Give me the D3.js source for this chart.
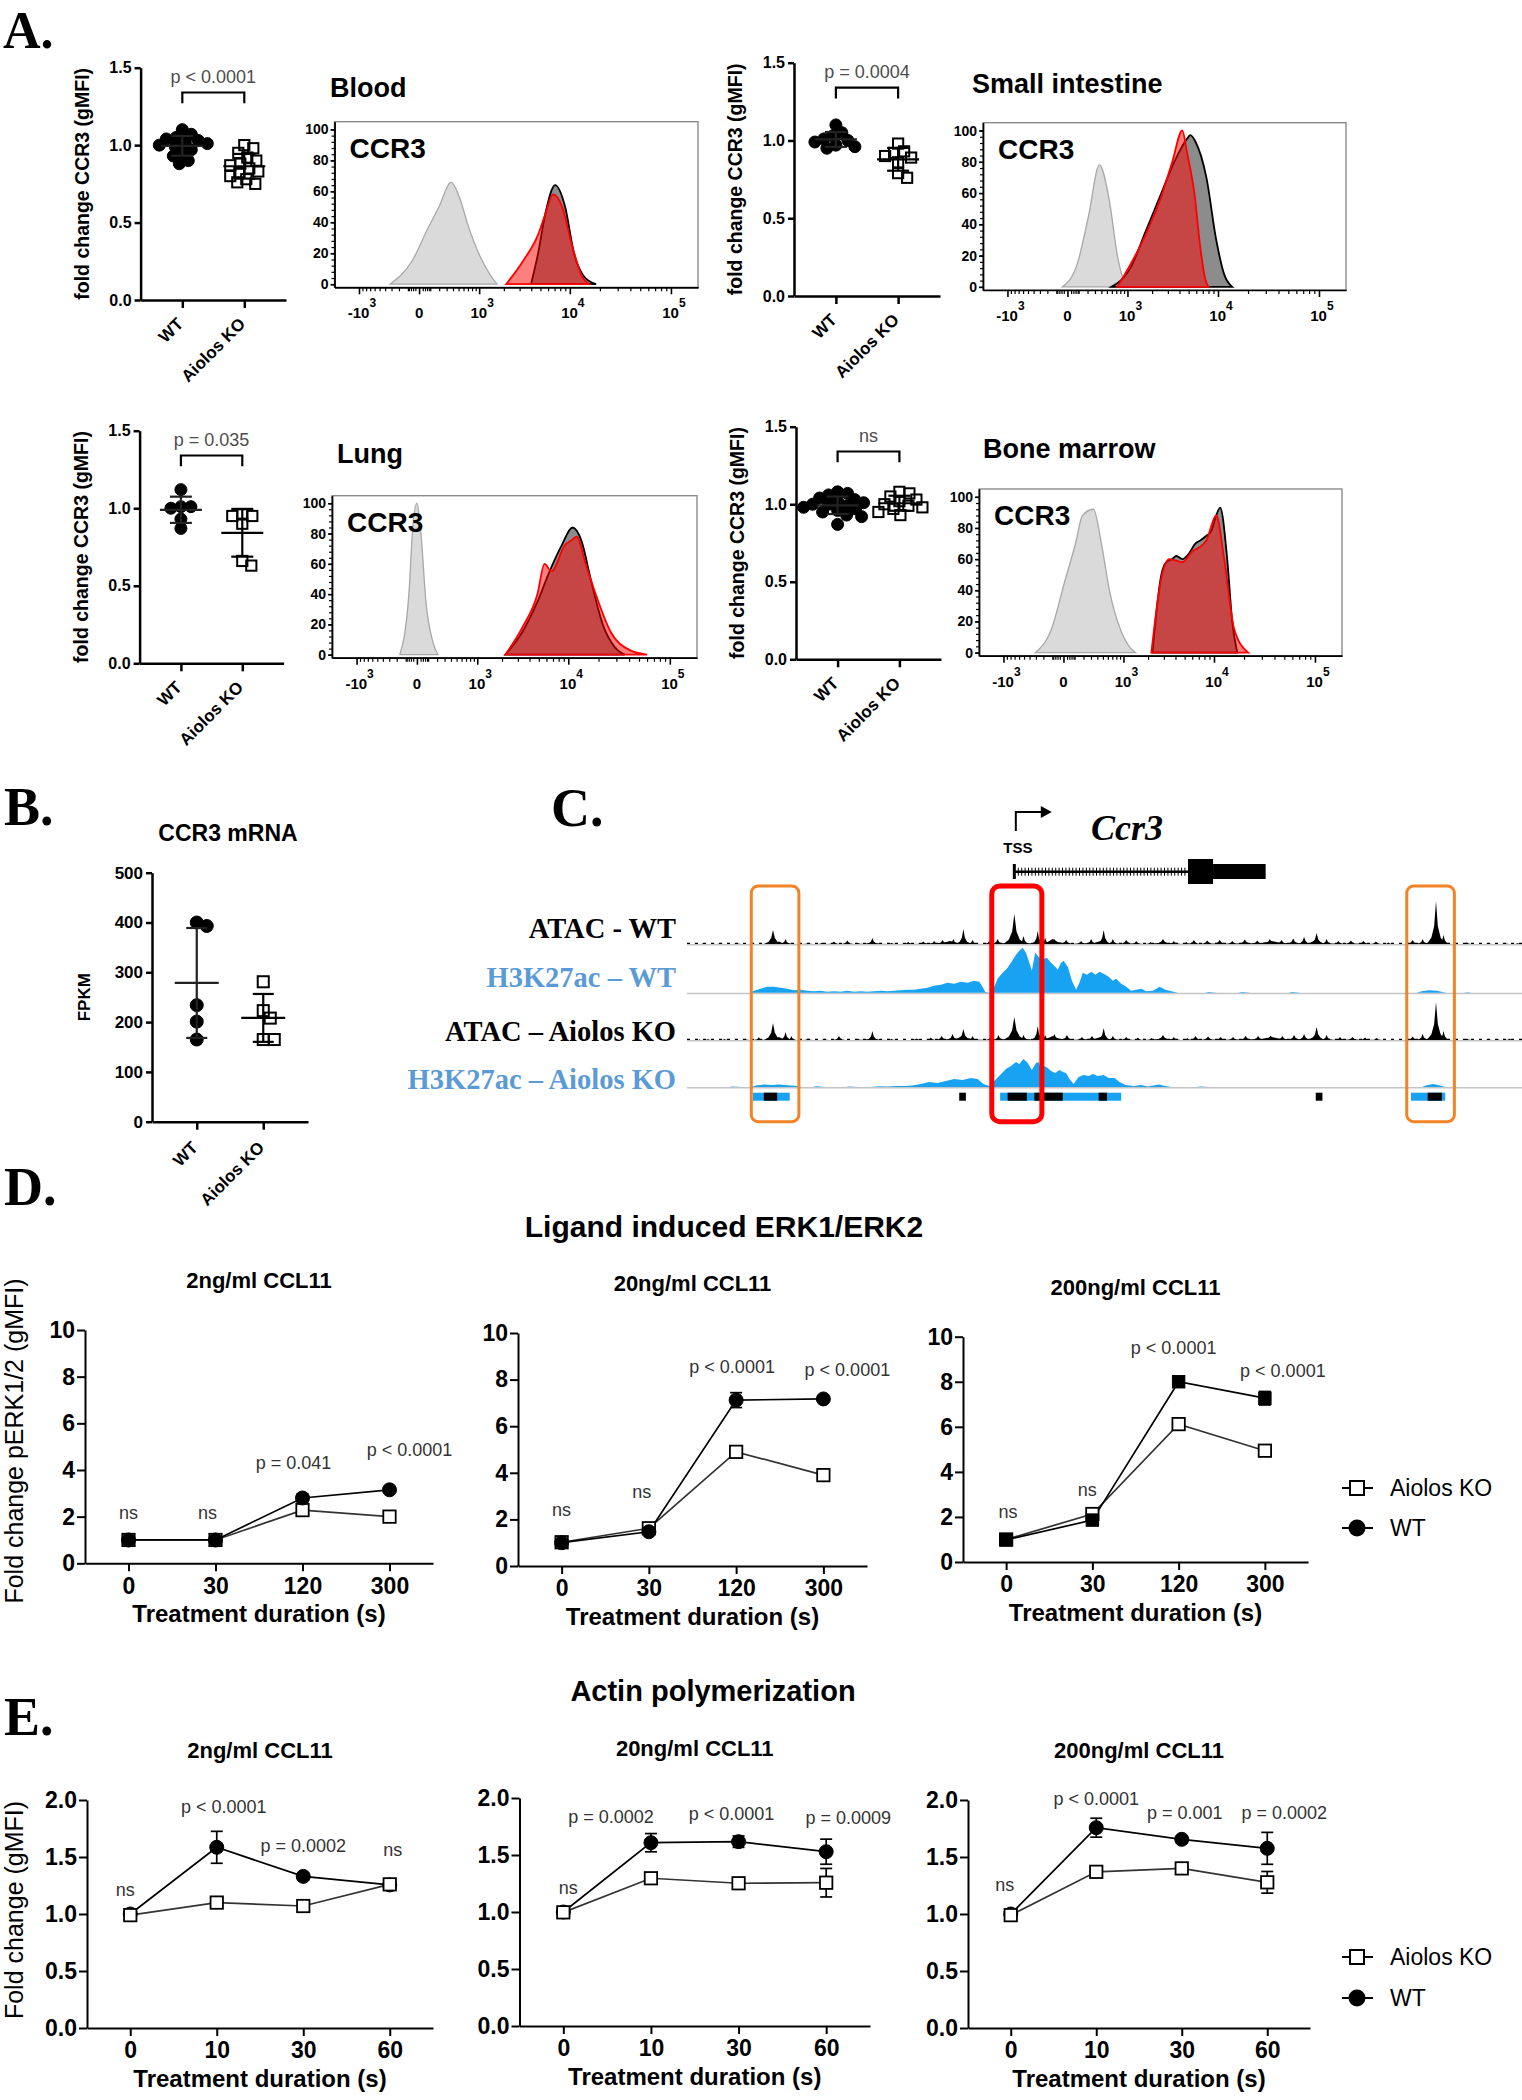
<!DOCTYPE html>
<html>
<head>
<meta charset="utf-8">
<script src="https://cdn.jsdelivr.net/npm/d3@7/dist/d3.min.js"></script>
<style>
html,body{margin:0;padding:0;background:#fff;}
svg{display:block;}
</style>
</head>
<body>
<svg id="fig" width="1522" height="2100" xmlns="http://www.w3.org/2000/svg"></svg>
<script>
// ====================== DATA ======================
const groups = ["WT", "Aiolos KO"];
const scatterTicks = [0, 0.5, 1.0, 1.5];

// Panel A: fold change CCR3 (gMFI), individual mice
const bloodWT = [1.10,1.07,1.05,1.04,1.03,1.02,1.01,1.00,0.99,0.97,0.95,0.93,0.90,0.88];
const bloodKO = [1.00,0.98,0.95,0.92,0.90,0.88,0.87,0.85,0.83,0.82,0.80,0.78,0.76,0.75];
const siWT    = [1.10,1.05,1.03,1.01,1.00,0.99,0.97,0.96,0.95];
const siKO    = [0.98,0.93,0.92,0.90,0.89,0.86,0.79,0.76];
const lungWT  = [1.12,1.01,1.01,1.00,0.93,0.87];
const lungKO  = [0.96,0.95,0.95,0.90,0.66,0.63];
const bmWT    = [1.08,1.07,1.06,1.04,1.03,1.02,1.01,1.00,1.00,0.99,0.98,0.97,0.96,0.95,0.93,0.92,0.87];
const bmKO    = [1.08,1.07,1.05,1.03,1.02,1.00,0.99,0.98,0.97,0.95,0.93];
const pA = ["p < 0.0001", "p = 0.0004", "p = 0.035", "ns"];
const tissues = ["Blood", "Small intestine", "Lung", "Bone marrow"];

// Panel A histograms: [CCR3 intensity, % of max]
const histCountTicks = [0,20,40,60,80,100];
const histMajorTicks = [-1000, 0, 1000, 10000, 100000];
const histTickLabels = [["-10","3"],["0",""],["10","3"],["10","4"],["10","5"]];
const histMinorTicks = [-900,-800,-700,-600,-500,-400,-300,-200,-100,-90,-70,-50,-30,30,50,70,90,100,200,300,400,500,600,700,800,900,
  2000,3000,4000,5000,6000,7000,8000,9000,20000,30000,40000,50000,60000,70000,80000,90000];
const bloodIso = [[-322,0],[-60,15],[69,35],[198,50],[369,66],[529,55],[702,38],[1028,18],[1379,6],[1669,0]];
const bloodWTh = [[3980,0],[4726,20],[5598,45],[7092,64],[8961,50],[11020,20],[13900,5],[18340,0]];
const bloodKOh = [[2124,0],[3272,15],[4726,32],[5598,45],[6767,58],[8360,50],[10530,25],[13270,5],[15600,0]];
const siIso  = [[-42,0],[88,15],[211,45],[369,78],[549,55],[726,20],[910,3],[999,0]];
const siWTh  = [[591,0],[1092,12],[1669,35],[2545,60],[3521,80],[4841,95],[5200,97],[5871,93],[7618,70],[9600,30],[11550,8],[13900,0]];
const siKOh  = [[726,0],[1669,33],[2545,58],[3353,80],[4283,100],[4841,85],[5733,60],[6609,25],[7420,5],[7981,0]];
const lungIso = [[-163,0],[-69,40],[-33,85],[0,100],[33,80],[78,35],[152,8],[211,0]];
const lungWTh = [[2181,0],[3353,15],[4841,35],[6455,55],[8555,72],[11020,84],[13580,75],[16730,50],[22020,20],[28900,5],[36300,0]];
const lungKOh = [[2181,0],[3353,18],[4841,40],[5733,60],[6767,55],[9171,72],[11020,76],[12100,78],[14900,60],[18760,40],[26400,15],[40700,3],[60000,0]];
const bmIso  = [[-307,0],[-109,15],[8,45],[109,70],[187,88],[337,92],[472,70],[634,40],[910,15],[1228,3],[1418,0]];
const bmWTh  = [[2237,0],[2819,50],[3192,58],[3700,60],[4085,62],[4726,60],[5457,63],[6455,70],[7256,72],[8360,75],[9380,78],[10530,88],[11550,93],[13580,60],[15250,20],[17120,0]];
const bmKOh  = [[2181,0],[2819,48],[3437,60],[4085,59],[4726,58],[6013,65],[7256,68],[8360,72],[10530,88],[12670,60],[15970,15],[22020,0]];

// Panel B: CCR3 mRNA (FPKM)
const mrnaWT = [400,393,234,201,165];
const mrnaKO = [281,223,208,165,165];
const mrnaTicks = [0,100,200,300,400,500];

// Panel C: genome tracks (relative position 0-100, signal)
const trackNames = ["ATAC - WT", "H3K27ac \u2013 WT", "ATAC \u2013 Aiolos KO", "H3K27ac \u2013 Aiolos KO"];
// ATAC peaks: [position, height, half-width]
const atacWT = [[1,0.8,0.3],[2,1,0.4],[3.2,0.8,0.3],[4,1,0.4],[5,0.8,0.3],[6,1.2,0.5],[7.8,1,0.4],[10.3,14,1.1],[11.8,5,0.8],[11,2.5,2.2],[14.5,1.2,0.6],[16.2,1.5,0.6],[17.6,2.5,0.9],[19.2,3.5,0.8],[20.5,1,0.5],[22.2,6,0.8],[22.2,2,1.8],[24.5,1.2,0.6],[26.5,2,1.0],[28.3,2.5,1.0],[29.6,3,0.8],[30.6,4,0.9],[31.5,3,4],[31.9,5,0.8],[33.1,15,0.9],[34.2,4,0.7],[36.2,3,0.8],[37.2,5,0.9],[39.4,5,2.8],[39.2,30,1.3],[40.3,8,0.8],[42.0,13,0.8],[42.9,6,0.7],[43.8,5,3],[44.0,5,0.9],[45.4,4,1.0],[47.2,3,0.9],[48.4,5,0.9],[49.5,3,3],[49.9,14,0.9],[51.0,5,0.8],[52.6,4,1.0],[53.8,3,0.8],[55.5,2,0.7],[57.0,5,1.2],[57,2.5,2.5],[58.3,3,0.8],[59.8,2,0.7],[60.7,4,0.9],[62.3,3.5,1.0],[63.8,4,1.0],[65.3,3,0.9],[66.8,4.5,1.0],[68.3,3.5,1.0],[69.8,5,1.0],[70,3,5],[71.2,4,0.9],[72.6,5.5,1.0],[73.9,7,0.9],[75.2,3.5,2.5],[75.4,11,1.0],[76.6,5,0.8],[78,3,0.9],[79.5,3.5,1.0],[81,3,1.0],[82.5,2.5,0.9],[84,1.5,0.6],[86.9,4,0.9],[88.1,5,0.8],[89.3,4,2],[89.7,43,1.1],[90.6,9,0.8],[93.4,2,0.6],[95,0.8,0.3],[96,1,0.4],[97,0.8,0.3],[98,1.2,0.5],[99.5,1,0.4]];
const atacKO = [[1.5,0.8,0.3],[2.5,1,0.4],[4.5,1,0.4],[5.8,0.8,0.3],[7,1.2,0.5],[8.6,3,0.6],[10.3,17,1.1],[11.8,8,0.8],[11,3,2.2],[12.5,4,0.6],[14.5,1.5,0.6],[16.5,1.2,0.5],[18.2,4,0.8],[20.5,1.2,0.5],[22.2,9,0.8],[22.2,2,1.8],[24.5,1.2,0.5],[27.5,1.5,0.8],[29.2,2.5,0.8],[30.5,4,0.9],[31.8,6,0.9],[33.0,4,3],[33.1,11,1.0],[34.2,4,0.7],[36.3,2.5,0.8],[37.3,5,0.8],[39.4,5,2.8],[39.2,23,1.3],[40.3,5,0.8],[42.0,14,0.8],[42.9,5,0.7],[43.8,4,3],[44.0,6,0.9],[45.5,5,1.0],[47.3,3,0.9],[48.5,4,0.9],[49.5,3,3],[49.9,12,0.9],[51.0,4,0.8],[52.6,3,0.9],[54.0,2.5,0.8],[55.6,2,0.7],[57.0,5,1.2],[57,2.5,2.5],[58.3,3,0.8],[59.9,2,0.7],[60.9,4,0.9],[62.4,3.5,1.0],[63.9,3,1.0],[65.4,3,0.9],[66.9,4,1.0],[68.4,4,1.0],[69.9,4.5,1.0],[70,3,5],[71.3,4,0.9],[72.7,5,1.0],[73.9,6,0.9],[75.2,3.5,2.5],[75.4,13,1.0],[76.6,5,0.8],[78.2,3,0.9],[79.7,3,1.0],[81.2,2.5,1.0],[82.6,2,0.8],[86.9,3.5,0.9],[88.1,6,0.8],[89.3,4,2],[89.7,38,1.1],[90.6,9,0.8],[93.4,1.5,0.6],[95,0.8,0.3],[96,1,0.4],[97.2,0.8,0.3],[98.5,1.5,0.5]];
// H3K27ac profiles: [position, signal]
const h3WT = [[7.6,0],[8.0,2],[8.8,4],[9.6,6],[10.4,6],[11.2,5],[12.0,4],[12.8,2.5],[13.6,3],[14.4,2],[15.2,1.5],[16,2],[16.8,1],[17.6,1.5],[18.4,1],[19.2,2],[20,1],[20.8,1.5],[21.6,1],[22.4,1.5],[23.2,2],[24,1.5],[24.8,2],[25.6,2.5],[26.4,3],[27.2,3],[28,4],[28.8,5],[29.6,7],[30.4,8],[31.2,10],[32,9],[32.8,11],[33.6,10],[34.4,12],[35.0,11],[35.4,6],[35.7,1],[36.2,0],[36.5,3],[36.8,6],[37.2,14],[37.8,20],[38.3,24],[38.8,30],[39.4,38],[39.8,42],[40.2,45],[40.6,40],[41.0,30],[41.3,22],[41.7,40],[42.1,36],[42.5,33],[43.1,35],[43.6,30],[44.1,26],[44.4,23],[44.8,30],[45.1,32],[45.6,26],[46.1,12],[46.6,3],[47.0,10],[47.4,20],[47.9,18],[48.4,21],[48.9,18],[49.4,21],[49.9,19],[50.5,16],[51.0,12],[51.4,14],[52.0,9],[52.6,6],[53.2,2],[53.8,3],[54.4,4],[55,1.5],[55.8,2],[56.6,6],[57.3,3],[58,1.5],[58.8,0],[62,0],[62.5,0.8],[63.5,0],[66,0],[66.5,0.6],[67.5,0],[72,0],[72.5,0.6],[73.5,0],[87.4,0],[88,1.5],[88.9,2.5],[89.8,2],[90.6,0.5],[91,0],[93,0],[93.5,0.5],[94,0]];
const h3KO = [[5,0],[5.5,0.5],[6.5,0],[7.6,0],[8.3,1.5],[9.2,2.5],[10.2,2],[11,2.5],[12,1.8],[13,1.2],[13.8,0],[15,0],[15.5,0.7],[16.5,0],[19,0],[19.5,0.6],[20.5,0],[22,0],[23,0.8],[24,0.5],[25,1],[26,1],[27,1.5],[28,3],[29,5],[30,4],[31,6],[32,8],[33,7],[34,9],[34.8,8],[35.5,3],[36.2,1],[36.8,6],[37.5,12],[38.2,18],[38.8,21],[39.4,25],[39.8,23],[40.3,28],[40.8,24],[41.3,17],[41.8,24],[42.1,25],[42.4,18],[42.8,21],[43.2,19],[43.6,16],[44.1,14],[44.6,17],[45.0,15],[45.4,14],[45.8,8],[46.3,3],[46.9,10],[47.5,12],[48.1,11],[48.6,13],[49.2,11],[49.9,12],[50.5,9],[51.2,9],[51.8,5],[52.5,2],[53.5,1],[54.4,2],[55.2,0.5],[56.5,2.5],[57.3,1],[58,0],[61,0],[61.5,0.5],[62.5,0],[88,0],[88.6,1.8],[89.4,3],[90.2,1.5],[90.8,0]];
const annotBlue  = [[7.9,12.3],[37.5,52.0],[86.7,90.8]];
const annotBlack = [[9.2,10.8],[32.6,33.4],[38.4,40.7],[41.6,45.0],[49.3,50.3],[75.3,76.1],[88.7,90.4]];
const regionsOrange = [[7.7,13.4],[86.2,91.9]];
const regionRed = [36.5,42.5];
const geneTSS = 39.2, geneCDS = [60.0,63.0], geneUTR = [63.0,69.3];

// Panel D: pERK1/2 fold change
const timesD = ["0","30","120","300"];
const erkTicks = [0,2,4,6,8,10];
const erk2KO   = [1.0,1.0,2.28,2.0],  erk2KOse   = [0.08,0.08,0.12,0.12];
const erk2WT   = [1.0,1.0,2.8,3.15],  erk2WTse   = [0.08,0.08,0.18,0.12];
const erk20KO  = [1.02,1.62,4.9,3.9], erk20KOse  = [0.08,0.1,0.15,0.22];
const erk20WT  = [1.0,1.47,7.12,7.17],erk20WTse  = [0.08,0.08,0.32,0.1];
const erk200KO = [1.0,2.13,6.12,4.94],erk200KOse = [0.1,0.12,0.18,0.15];
const erk200WT = [0.98,1.86,8.0,7.27],erk200WTse = [0.1,0.12,0.2,0.3];
const pD2   = ["ns","ns","p = 0.041","p < 0.0001"];
const pD20  = ["ns","ns","p < 0.0001","p < 0.0001"];
const pD200 = ["ns","ns","p < 0.0001","p < 0.0001"];
const pDy2 = [1.9,1.9,4.04,4.6], pDy20 = [2.15,2.9,8.27,8.15], pDy200 = [1.95,2.93,9.23,8.2];

// Panel E: actin polymerization fold change
const timesE = ["0","10","30","60"];
const actTicks = [0,0.5,1.0,1.5,2.0];
const act2KO   = [0.99,1.10,1.07,1.26],   act2KOse   = [0.02,0.02,0.03,0.03];
const act2WT   = [1.0,1.585,1.33,1.255],  act2WTse   = [0.02,0.14,0.03,0.03];
const act20KO  = [0.997,1.296,1.252,1.257],act20KOse = [0.02,0.03,0.03,0.125];
const act20WT  = [1.0,1.608,1.617,1.529], act20WTse  = [0.02,0.08,0.05,0.11];
const act200KO = [0.99,1.37,1.40,1.278],  act200KOse = [0.02,0.02,0.03,0.095];
const act200WT = [1.0,1.757,1.655,1.576], act200WTse = [0.02,0.083,0.03,0.14];
const pE2   = ["ns","p < 0.0001","p = 0.0002","ns"];
const pE20  = ["ns","p = 0.0002","p < 0.0001","p = 0.0009"];
const pE200 = ["ns","p < 0.0001","p = 0.001","p = 0.0002"];
const pEy2 = [1.16,1.89,1.54,1.51], pEy20 = [1.16,1.78,1.81,1.77], pEy200 = [1.2,1.96,1.83,1.83];

// ====================== DRAWING ======================
const SANS = "'Liberation Sans', Arial, Helvetica, sans-serif";
const SERIF = "'Liberation Serif', 'Times New Roman', Times, serif";
const svg = d3.select("#fig");
svg.append("rect").attr("width",1522).attr("height",2100).attr("fill","#fff");

function T(g, x, y, s, o = {}) {
  const t = g.append("text").attr("x", x).attr("y", y).text(s)
    .attr("font-family", o.family || SANS)
    .attr("font-size", o.size || 16)
    .attr("font-weight", o.weight || "normal")
    .attr("fill", o.fill || "#000")
    .attr("text-anchor", o.anchor || "start");
  if (o.style) t.attr("font-style", o.style);
  if (o.rotate) t.attr("transform", `rotate(${o.rotate},${x},${y})`);
  return t;
}
function styleAxis(sel, size, weight, sw) {
  sel.selectAll("path.domain").attr("stroke", "#000").attr("stroke-width", sw);
  sel.selectAll(".tick line").attr("stroke", "#000").attr("stroke-width", sw);
  sel.selectAll(".tick text").attr("font-family", SANS).attr("font-size", size)
    .attr("font-weight", weight).attr("fill", "#000");
}
function swarm(vals, y, cx, minD) {
  const items = vals.map(v => ({ v, py: y(v) })).sort((a, b) => a.py - b.py);
  const placed = [];
  items.forEach(it => {
    let off = 0;
    outer: for (let s = 0; s < 80; s++) {
      const cands = s === 0 ? [0] : [s, -s];
      for (const c of cands) {
        if (placed.every(p => (p.px - (cx + c)) ** 2 + (p.py - it.py) ** 2 >= minD * minD)) { off = c; break outer; }
      }
    }
    it.px = cx + off; placed.push(it);
  });
  return placed;
}
function marker(g, shape, x, y, size, fill, stroke, sw) {
  if (shape === "circle") {
    g.append("circle").attr("cx", x).attr("cy", y).attr("r", size).attr("fill", fill).attr("stroke", stroke).attr("stroke-width", sw);
  } else {
    g.append("rect").attr("x", x - size).attr("y", y - size).attr("width", 2 * size).attr("height", 2 * size)
      .attr("fill", fill).attr("stroke", stroke).attr("stroke-width", sw);
  }
}

// ---------- panel letters ----------
[["A.",3,48,52],["B.",4,825,54],["C.",551,826,54],["D.",4,1205,54],["E.",4,1735,54]].forEach(([s,x,y,fs]) =>
  T(svg, x, y, s, { family: SERIF, size: fs, weight: "bold" }));

// ---------- scatter (A and B) ----------
function scatterPanel(c, wt, ko) {
  const g = svg.append("g");
  const y = d3.scaleLinear().domain(c.domain).range([c.y0, c.yTop]);
  const x = d3.scalePoint().domain(groups).range([c.ax, c.xEnd]).padding(c.pad);
  const ya = g.append("g").attr("transform", `translate(${c.ax},0)`)
    .call(d3.axisLeft(y).tickValues(c.ticks).tickFormat(c.fmt).tickSize(6).tickSizeOuter(0).tickPadding(3));
  styleAxis(ya, c.tickSize, "bold", 2.5);
  const xa = g.append("g").attr("transform", `translate(0,${c.y0})`)
    .call(d3.axisBottom(x).tickSize(8).tickSizeOuter(0).tickFormat(""));
  styleAxis(xa, 12, "bold", 2.5);
  groups.forEach(gr => T(g, x(gr) + 2, c.y0 + c.lblDy, gr, { rotate: -45, anchor: "end", weight: "bold", size: c.lblSize }));
  T(g, c.ax - c.ytOff, (c.y0 + c.yTop) / 2, c.ytitle, { rotate: -90, anchor: "middle", weight: "bold", size: c.ytSize });
  if (c.title) T(g, c.title[0], c.title[1], c.title[2], { anchor: "middle", weight: "bold", size: 23 });
  [wt, ko].forEach((vals, i) => {
    const cx = x(groups[i]);
    const pts = swarm(vals, y, cx, c.r * 1.55);
    pts.forEach(p => {
      if (i === 0) marker(g, "circle", p.px, p.py, c.r, "#000", "#000", 1);
      else marker(g, "square", p.px, p.py, c.r * 0.85, "none", "#000", 2);
    });
    const m = d3.mean(vals), sd = d3.deviation(vals);
    const ls = g.append("g").attr("stroke", i === 0 ? "#222" : "#000").attr("stroke-width", 2.2).attr("fill", "none");
    ls.append("line").attr("x1", cx - c.mw).attr("x2", cx + c.mw).attr("y1", y(m)).attr("y2", y(m));
    ls.append("line").attr("x1", cx).attr("x2", cx).attr("y1", y(m - sd)).attr("y2", y(m + sd));
    [m - sd, m + sd].forEach(v => ls.append("line").attr("x1", cx - c.cw).attr("x2", cx + c.cw).attr("y1", y(v)).attr("y2", y(v)));
  });
  if (c.p) {
    const b1 = x(groups[0]), b2 = x(groups[1]);
    g.append("path").attr("d", `M${b1},${y(1.27)}V${y(1.34)}H${b2}V${y(1.27)}`)
      .attr("fill", "none").attr("stroke", "#000").attr("stroke-width", 2.2);
    T(g, (b1 + b2) / 2, y(1.40), c.p, { anchor: "middle", size: 18, fill: "#4d4d4d" });
  }
}
const scatterCommon = { domain: [0, 1.5], ticks: scatterTicks, fmt: d3.format(".1f"), pad: 0.673, tickSize: 16,
  lblSize: 17, lblDy: 25, ytitle: "fold change CCR3 (gMFI)", ytOff: 52, ytSize: 19.5, r: 6, mw: 21, cw: 11 };
scatterPanel({ ...scatterCommon, ax: 140.6, y0: 300, yTop: 67.7, xEnd: 286, p: pA[0] }, bloodWT, bloodKO);
scatterPanel({ ...scatterCommon, ax: 794, y0: 296, yTop: 62.7, xEnd: 940, p: pA[1] }, siWT, siKO);
scatterPanel({ ...scatterCommon, ax: 139.6, y0: 663.3, yTop: 430.7, xEnd: 283.6, p: pA[2] }, lungWT, lungKO);
scatterPanel({ ...scatterCommon, ax: 796, y0: 659.3, yTop: 426.7, xEnd: 941, p: pA[3] }, bmWT, bmKO);
// Panel B
scatterPanel({ domain: [0, 500], ticks: mrnaTicks, fmt: d3.format("d"), pad: 0.673, tickSize: 17, lblSize: 17, lblDy: 27,
  ytitle: "FPKM", ytOff: 62, ytSize: 17, r: 6.5, mw: 22, cw: 10.5, ax: 152, y0: 1121.7, yTop: 872.7, xEnd: 308,
  title: [228, 841, "CCR3 mRNA"] }, mrnaWT, mrnaKO);

// ---------- histograms (A) ----------
function histPanel(c, iso, wt, ko) {
  const g = svg.append("g");
  const x = d3.scaleSymlog().constant(350).domain([-1990, 184000]).range([c.x, c.x + c.w]);
  const y = d3.scaleLinear().domain([-2, 105]).range([c.y + c.h, c.y]);
  const area = d3.area().x(d => x(d[0])).y0(y(0)).y1(d => y(d[1])).curve(d3.curveMonotoneX);
  g.append("rect").attr("x", c.x).attr("y", c.y).attr("width", c.w).attr("height", c.h)
    .attr("fill", "none").attr("stroke", "#8a8a8a").attr("stroke-width", 1.4);
  g.append("path").attr("d", area(iso)).attr("fill", "#dadada").attr("stroke", "#a8a8a8").attr("stroke-width", 1.3);
  g.append("path").attr("d", area(wt)).attr("fill", "#8c8c8c").attr("stroke", "#000").attr("stroke-width", 1.8);
  g.append("path").attr("d", area(ko)).attr("fill", "rgba(255,0,0,0.5)").attr("stroke", "#ff0000").attr("stroke-width", 1.8);
  const xb = c.y + c.h;
  const xa = g.append("g").attr("transform", `translate(0,${xb})`)
    .call(d3.axisBottom(x).tickValues(histMajorTicks).tickSize(7).tickSizeOuter(0).tickFormat(""));
  styleAxis(xa, 10, "bold", 1.6);
  const xm = g.append("g").attr("transform", `translate(0,${xb})`)
    .call(d3.axisBottom(x).tickValues(histMinorTicks).tickSize(4).tickSizeOuter(0).tickFormat(""));
  styleAxis(xm, 10, "bold", 1.2);
  const ya = g.append("g").attr("transform", `translate(${c.x},0)`)
    .call(d3.axisLeft(y).tickValues(histCountTicks).tickSize(4).tickSizeOuter(0).tickPadding(2));
  styleAxis(ya, 14, "bold", 1.6);
  const ym = g.append("g").attr("transform", `translate(${c.x},0)`)
    .call(d3.axisLeft(y).tickValues(d3.range(0, 101, 4)).tickSize(3).tickSizeOuter(0).tickFormat(""));
  styleAxis(ym, 10, "bold", 1.2);
  histMajorTicks.forEach((v, i) => {
    const [base, sup] = histTickLabels[i];
    const t = g.append("text").attr("x", x(v) + (sup ? 3 : 0)).attr("y", xb + 31).attr("text-anchor", "middle")
      .attr("font-family", SANS).attr("font-weight", "bold").attr("font-size", 15);
    t.append("tspan").text(base);
    if (sup) t.append("tspan").attr("dy", -11).attr("font-size", 12).text(sup);
  });
  T(g, c.x + 15, c.y + 36, "CCR3", { weight: "bold", size: 28 });
  T(g, c.tx, c.ty, c.title, { weight: "bold", size: 27 });
}
histPanel({ x: 334.5, y: 121.7, w: 363.5, h: 165.6, tx: 330, ty: 97, title: tissues[0] }, bloodIso, bloodWTh, bloodKOh);
histPanel({ x: 983, y: 122.7, w: 363, h: 167.3, tx: 972, ty: 93, title: tissues[1] }, siIso, siWTh, siKOh);
histPanel({ x: 332, y: 495.7, w: 365, h: 162, tx: 337, ty: 463, title: tissues[2] }, lungIso, lungWTh, lungKOh);
histPanel({ x: 979, y: 489, w: 363, h: 166.7, tx: 983, ty: 458, title: tissues[3] }, bmIso, bmWTh, bmKOh);

// ---------- Panel C: genome tracks ----------
(function () {
  const g = svg.append("g");
  const gx = d3.scaleLinear().domain([0, 100]).range([687, 1522]);
  const bases = [944, 992.7, 1040, 1087];
  const labelY = [938, 987, 1041, 1089];
  const labelCol = ["#000", "#5b9bd5", "#000", "#5b9bd5"];
  trackNames.forEach((n, i) => T(g, 676, labelY[i], n, { family: SERIF, size: 28.5, weight: "bold", anchor: "end", fill: labelCol[i] }));
  bases.forEach(b => g.append("line").attr("x1", gx(0)).attr("x2", gx(100)).attr("y1", b + 0.8).attr("y2", b + 0.8)
    .attr("stroke", "#c4c4c4").attr("stroke-width", 1.6));
  [bases[0], bases[2]].forEach(b => g.append("line").attr("x1", gx(0)).attr("x2", gx(100)).attr("y1", b - 0.6).attr("y2", b - 0.6)
    .attr("stroke", "#000").attr("stroke-width", 1.2).attr("stroke-dasharray", "3,5"));
  const peakArea = (ys) => d3.area().x(d => gx(d[0])).y0(ys(0)).y1(d => ys(d[1]));
  function drawPeaks(peaks, base, color) {
    const ys = d3.scaleLinear().domain([0, 45]).range([base, base - 45]);
    const ar = peakArea(ys);
    peaks.forEach(([c, h, w]) => {
      const shape = [[c - w, 0], [c - 0.5 * w, 0.15 * h], [c - 0.2 * w, 0.42 * h], [c, h], [c + 0.2 * w, 0.42 * h], [c + 0.5 * w, 0.15 * h], [c + w, 0]];
      g.append("path").attr("d", ar(shape)).attr("fill", color);
    });
  }
  function drawProfile(prof, base, color) {
    const ys = d3.scaleLinear().domain([0, 45]).range([base, base - 45]);
    g.append("path").attr("d", peakArea(ys)(prof)).attr("fill", color);
  }
  drawPeaks(atacWT, bases[0], "#000");
  drawProfile(h3WT, bases[1], "#17a3f2");
  drawPeaks(atacKO, bases[2], "#000");
  drawProfile(h3KO, bases[3], "#17a3f2");
  // annotation bar
  const barY = 1096.7, barH = 8;
  annotBlue.forEach(([a, b]) => g.append("rect").attr("x", gx(a)).attr("y", barY - barH / 2).attr("width", gx(b) - gx(a)).attr("height", barH).attr("fill", "#17a3f2"));
  annotBlack.forEach(([a, b]) => g.append("rect").attr("x", gx(a)).attr("y", barY - barH / 2).attr("width", gx(b) - gx(a)).attr("height", barH).attr("fill", "#000"));
  // highlight boxes
  regionsOrange.forEach(([a, b]) => g.append("rect").attr("x", gx(a)).attr("y", 886).attr("width", gx(b) - gx(a)).attr("height", 235.7)
    .attr("rx", 7).attr("fill", "none").attr("stroke", "#f28326").attr("stroke-width", 3));
  g.append("rect").attr("x", gx(regionRed[0])).attr("y", 886).attr("width", gx(regionRed[1]) - gx(regionRed[0])).attr("height", 235.7)
    .attr("rx", 8).attr("fill", "none").attr("stroke", "#ff0000").attr("stroke-width", 5);
  // gene model
  const lineY = 871.7;
  g.append("line").attr("x1", gx(geneTSS)).attr("x2", gx(geneCDS[0])).attr("y1", lineY).attr("y2", lineY).attr("stroke", "#000").attr("stroke-width", 2.5);
  d3.range(gx(geneTSS) + 4, gx(geneCDS[0]), 3.4).forEach(px => g.append("line").attr("x1", px).attr("x2", px)
    .attr("y1", lineY - 4).attr("y2", lineY + 4).attr("stroke", "#000").attr("stroke-width", 1));
  g.append("rect").attr("x", gx(geneTSS) - 1.5).attr("y", 864).attr("width", 3).attr("height", 15).attr("fill", "#000");
  g.append("rect").attr("x", gx(geneCDS[0])).attr("y", 859).attr("width", gx(geneCDS[1]) - gx(geneCDS[0])).attr("height", 25).attr("fill", "#000");
  g.append("rect").attr("x", gx(geneUTR[0])).attr("y", 864).attr("width", gx(geneUTR[1]) - gx(geneUTR[0])).attr("height", 15).attr("fill", "#000");
  // TSS arrow
  const ax0 = gx(geneTSS) + 1.5;
  g.append("path").attr("d", `M${ax0},831V812H${ax0 + 27}`).attr("fill", "none").attr("stroke", "#000").attr("stroke-width", 2);
  g.append("path").attr("d", `M${ax0 + 36},812L${ax0 + 25},806L${ax0 + 25},818Z`).attr("fill", "#000");
  T(g, ax0 + 2, 853, "TSS", { weight: "bold", size: 15, anchor: "middle" });
  T(g, 1091, 840, "Ccr3", { family: SERIF, size: 36, weight: "bold", style: "italic" });
})();

// ---------- line charts (D, E) ----------
function lineChart(c) {
  const g = svg.append("g");
  const x = d3.scalePoint().domain(c.cats).range([c.ax, c.xEnd]).padding(0.5);
  const y = d3.scaleLinear().domain([0, c.ymax]).range([c.y0, c.yTop]);
  const ya = g.append("g").attr("transform", `translate(${c.ax},0)`)
    .call(d3.axisLeft(y).tickValues(c.ticks).tickFormat(c.fmt).tickSize(8).tickSizeOuter(0).tickPadding(2));
  styleAxis(ya, 23, "bold", 2);
  const xa = g.append("g").attr("transform", `translate(0,${c.y0})`)
    .call(d3.axisBottom(x).tickSize(8).tickSizeOuter(0).tickPadding(6));
  styleAxis(xa, 23, "bold", 2);
  const mid = (c.ax + c.xEnd) / 2;
  T(g, mid, c.yTop - 42, c.sub, { anchor: "middle", weight: "bold", size: 22 });
  T(g, mid, c.y0 + 59, "Treatment duration (s)", { anchor: "middle", weight: "bold", size: 24 });
  const line = d3.line().x((d, i) => x(c.cats[i])).y(d => y(d));
  const series = [
    { v: c.ko, se: c.kose, shape: "square", fill: "#fff", col: "#333" },
    { v: c.wt, se: c.wtse, shape: c.wtShape || "circle", fill: "#000", col: "#000" }
  ];
  if (c.koTop) series.reverse();
  series.forEach(s => g.append("path").attr("d", line(s.v)).attr("fill", "none").attr("stroke", s.col).attr("stroke-width", 1.7));
  series.forEach(s => {
    s.v.forEach((v, i) => {
      const px = x(c.cats[i]);
      const eb = g.append("g").attr("stroke", "#000").attr("stroke-width", 1.7);
      eb.append("line").attr("x1", px).attr("x2", px).attr("y1", y(v - s.se[i])).attr("y2", y(v + s.se[i]));
      [v - s.se[i], v + s.se[i]].forEach(e => eb.append("line").attr("x1", px - 6).attr("x2", px + 6).attr("y1", y(e)).attr("y2", y(e)));
      marker(g, s.shape, px, y(v), s.shape === "circle" ? 7 : 6.2, s.fill, "#000", s.fill === "#fff" ? 1.8 : 1);
    });
  });
  c.p.forEach((s, i) => T(g, x(c.cats[i]) + c.pdx[i], y(c.py[i]), s, { anchor: "middle", size: 18, fill: "#333" }));
}
lineChart({ cats: timesD, ax: 85, xEnd: 433, y0: 1563.3, yTop: 1330, ymax: 10, ticks: erkTicks, fmt: d3.format("d"),
  sub: "2ng/ml CCL11", ko: erk2KO, kose: erk2KOse, wt: erk2WT, wtse: erk2WTse, p: pD2, py: pDy2, pdx: [0, -8, -9, 20] });
lineChart({ cats: timesD, ax: 518, xEnd: 867, y0: 1566, yTop: 1333, ymax: 10, ticks: erkTicks, fmt: d3.format("d"),
  sub: "20ng/ml CCL11", ko: erk20KO, kose: erk20KOse, wt: erk20WT, wtse: erk20WTse, p: pD20, py: pDy20, pdx: [0, -7, -4, 24] });
lineChart({ cats: timesD, ax: 963, xEnd: 1308, y0: 1562, yTop: 1336.7, ymax: 10, ticks: erkTicks, fmt: d3.format("d"),
  sub: "200ng/ml CCL11", ko: erk200KO, kose: erk200KOse, wt: erk200WT, wtse: erk200WTse, wtShape: "square", p: pD200, py: pDy200, pdx: [2, -5, -5, 18] });
lineChart({ cats: timesE, ax: 87, xEnd: 433, y0: 2028, yTop: 1800, ymax: 2, ticks: actTicks, fmt: d3.format(".1f"), koTop: true,
  sub: "2ng/ml CCL11", ko: act2KO, kose: act2KOse, wt: act2WT, wtse: act2WTse, p: pE2, py: pEy2, pdx: [-5, 7, 0, 3] });
lineChart({ cats: timesE, ax: 519.5, xEnd: 870, y0: 2026, yTop: 1798, ymax: 2, ticks: actTicks, fmt: d3.format(".1f"), koTop: true,
  sub: "20ng/ml CCL11", ko: act20KO, kose: act20KOse, wt: act20WT, wtse: act20WTse, p: pE20, py: pEy20, pdx: [5, -40, -7, 22] });
lineChart({ cats: timesE, ax: 968, xEnd: 1310, y0: 2028, yTop: 1800, ymax: 2, ticks: actTicks, fmt: d3.format(".1f"), koTop: true,
  sub: "200ng/ml  CCL11", ko: act200KO, kose: act200KOse, wt: act200WT, wtse: act200WTse, p: pE200, py: pEy200, pdx: [-6, 0, 3, 17] });

// titles and y titles
T(svg, 724, 1237, "Ligand induced ERK1/ERK2", { anchor: "middle", weight: "bold", size: 30 });
T(svg, 713, 1701, "Actin polymerization", { anchor: "middle", weight: "bold", size: 29 });
T(svg, 23, 1441, "Fold change pERK1/2 (gMFI)", { anchor: "middle", size: 25, rotate: -90 });
T(svg, 23, 1910, "Fold change (gMFI)", { anchor: "middle", size: 25, rotate: -90 });

// legends
function legend(yKO, yWT) {
  const g = svg.append("g");
  [[yKO, "square", "#fff", "Aiolos KO"], [yWT, "circle", "#000", "WT"]].forEach(([yy, sh, f, lab]) => {
    g.append("line").attr("x1", 1342).attr("x2", 1373).attr("y1", yy).attr("y2", yy).attr("stroke", "#000").attr("stroke-width", 2);
    marker(g, sh, 1357, yy, sh === "circle" ? 7.5 : 7, f, "#000", 2);
    T(g, 1390, yy + 8, lab, { size: 23 });
  });
}
legend(1488, 1528);
legend(1957, 1998);
</script>
</body>
</html>
